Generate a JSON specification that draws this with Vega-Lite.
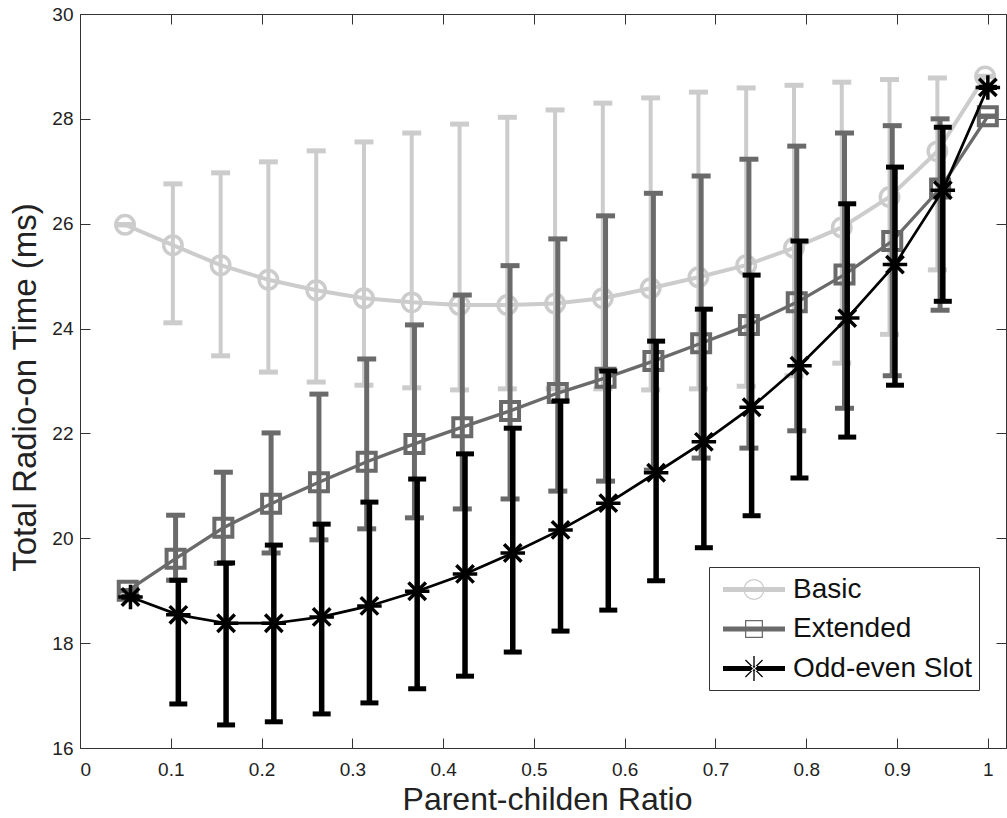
{
  "$schema": "https://vega.github.io/schema/vega-lite/v6.json",
  "width": 926,
  "height": 734,
  "autosize": {"type": "none"},
  "padding": {"left": 80, "top": 14, "right": 1, "bottom": 70},
  "background": "white",
  "config": {
    "view": {"stroke": null},
    "axis": {"domainColor": "#333333", "tickColor": "#333333", "domainWidth": 1, "tickWidth": 1, "grid": false, "labelFont": "Liberation Sans", "labelFontSize": 19, "labelColor": "#222222", "titleFont": "Liberation Sans", "titleFontWeight": "normal", "titleColor": "#222222", "tickSize": -10},
    "legend": {"orient": "none", "legendX": 629, "legendY": 553, "padding": 7, "strokeColor": "#333333", "fillColor": "white", "symbolSize": 961, "symbolStrokeWidth": 0, "symbolOpacity": 1, "labelFontSize": 28, "labelFont": "Liberation Sans", "labelColor": "#111111", "rowPadding": 9.5, "labelOffset": 23.5, "symbolOffset": 22.5, "labelLimit": 400}
  },
  "datasets": {
    "d": [
      {"s": "Basic", "x": 0.0496, "m": 25.98, "lo": 25.98, "hi": 25.98},
      {"s": "Basic", "x": 0.1023, "m": 25.59, "lo": 24.11, "hi": 26.76},
      {"s": "Basic", "x": 0.1549, "m": 25.21, "lo": 23.48, "hi": 26.97},
      {"s": "Basic", "x": 0.2075, "m": 24.93, "lo": 23.17, "hi": 27.18},
      {"s": "Basic", "x": 0.2602, "m": 24.73, "lo": 22.98, "hi": 27.39},
      {"s": "Basic", "x": 0.3128, "m": 24.58, "lo": 22.92, "hi": 27.56},
      {"s": "Basic", "x": 0.3654, "m": 24.5, "lo": 22.87, "hi": 27.73},
      {"s": "Basic", "x": 0.4181, "m": 24.45, "lo": 22.83, "hi": 27.9},
      {"s": "Basic", "x": 0.4707, "m": 24.45, "lo": 22.85, "hi": 28.03},
      {"s": "Basic", "x": 0.5233, "m": 24.48, "lo": 22.85, "hi": 28.17},
      {"s": "Basic", "x": 0.5759, "m": 24.58, "lo": 22.85, "hi": 28.3},
      {"s": "Basic", "x": 0.6286, "m": 24.77, "lo": 22.83, "hi": 28.4},
      {"s": "Basic", "x": 0.6812, "m": 24.98, "lo": 22.85, "hi": 28.51},
      {"s": "Basic", "x": 0.7338, "m": 25.21, "lo": 22.9, "hi": 28.59},
      {"s": "Basic", "x": 0.7865, "m": 25.54, "lo": 23.1, "hi": 28.64},
      {"s": "Basic", "x": 0.8391, "m": 25.93, "lo": 23.34, "hi": 28.7},
      {"s": "Basic", "x": 0.8917, "m": 26.51, "lo": 23.89, "hi": 28.75},
      {"s": "Basic", "x": 0.9444, "m": 27.38, "lo": 25.12, "hi": 28.78},
      {"s": "Basic", "x": 0.997, "m": 28.81, "lo": 28.81, "hi": 28.81},
      {"s": "Extended", "x": 0.0526, "m": 19.0, "lo": 19.0, "hi": 19.0},
      {"s": "Extended", "x": 0.1053, "m": 19.61, "lo": 19.2, "hi": 20.44},
      {"s": "Extended", "x": 0.1579, "m": 20.2, "lo": 19.52, "hi": 21.26},
      {"s": "Extended", "x": 0.2105, "m": 20.66, "lo": 19.72, "hi": 22.01},
      {"s": "Extended", "x": 0.2632, "m": 21.07, "lo": 19.97, "hi": 22.75},
      {"s": "Extended", "x": 0.3158, "m": 21.46, "lo": 20.18, "hi": 23.42},
      {"s": "Extended", "x": 0.3684, "m": 21.8, "lo": 20.39, "hi": 24.07},
      {"s": "Extended", "x": 0.4211, "m": 22.12, "lo": 20.56, "hi": 24.64},
      {"s": "Extended", "x": 0.4737, "m": 22.43, "lo": 20.75, "hi": 25.2},
      {"s": "Extended", "x": 0.5263, "m": 22.77, "lo": 20.9, "hi": 25.71},
      {"s": "Extended", "x": 0.5789, "m": 23.06, "lo": 21.09, "hi": 26.15},
      {"s": "Extended", "x": 0.6316, "m": 23.38, "lo": 21.3, "hi": 26.58},
      {"s": "Extended", "x": 0.6842, "m": 23.72, "lo": 21.53, "hi": 26.91},
      {"s": "Extended", "x": 0.7368, "m": 24.07, "lo": 21.72, "hi": 27.23},
      {"s": "Extended", "x": 0.7895, "m": 24.5, "lo": 22.05, "hi": 27.48},
      {"s": "Extended", "x": 0.8421, "m": 25.03, "lo": 22.48, "hi": 27.73},
      {"s": "Extended", "x": 0.8947, "m": 25.67, "lo": 23.1, "hi": 27.87},
      {"s": "Extended", "x": 0.9474, "m": 26.67, "lo": 24.35, "hi": 28.0},
      {"s": "Extended", "x": 1.0, "m": 28.05, "lo": 28.05, "hi": 28.05},
      {"s": "Odd-even Slot", "x": 0.0556, "m": 18.88, "lo": 18.88, "hi": 18.88},
      {"s": "Odd-even Slot", "x": 0.1083, "m": 18.54, "lo": 16.84, "hi": 19.2},
      {"s": "Odd-even Slot", "x": 0.1609, "m": 18.38, "lo": 16.44, "hi": 19.53},
      {"s": "Odd-even Slot", "x": 0.2135, "m": 18.38, "lo": 16.5, "hi": 19.87},
      {"s": "Odd-even Slot", "x": 0.2662, "m": 18.5, "lo": 16.65, "hi": 20.27},
      {"s": "Odd-even Slot", "x": 0.3188, "m": 18.71, "lo": 16.86, "hi": 20.69},
      {"s": "Odd-even Slot", "x": 0.3714, "m": 18.99, "lo": 17.13, "hi": 21.13},
      {"s": "Odd-even Slot", "x": 0.4241, "m": 19.32, "lo": 17.37, "hi": 21.61},
      {"s": "Odd-even Slot", "x": 0.4767, "m": 19.72, "lo": 17.83, "hi": 22.1},
      {"s": "Odd-even Slot", "x": 0.5293, "m": 20.16, "lo": 18.23, "hi": 22.62},
      {"s": "Odd-even Slot", "x": 0.5819, "m": 20.67, "lo": 18.63, "hi": 23.19},
      {"s": "Odd-even Slot", "x": 0.6346, "m": 21.25, "lo": 19.19, "hi": 23.76},
      {"s": "Odd-even Slot", "x": 0.6872, "m": 21.84, "lo": 19.82, "hi": 24.37},
      {"s": "Odd-even Slot", "x": 0.7398, "m": 22.5, "lo": 20.43, "hi": 25.02},
      {"s": "Odd-even Slot", "x": 0.7925, "m": 23.29, "lo": 21.15, "hi": 25.67},
      {"s": "Odd-even Slot", "x": 0.8451, "m": 24.2, "lo": 21.93, "hi": 26.38},
      {"s": "Odd-even Slot", "x": 0.8977, "m": 25.22, "lo": 22.92, "hi": 27.08},
      {"s": "Odd-even Slot", "x": 0.9504, "m": 26.64, "lo": 24.52, "hi": 27.84},
      {"s": "Odd-even Slot", "x": 1.0, "m": 28.6, "lo": 28.6, "hi": 28.6}
    ]
  },
  "data": {"name": "d"},
  "layer": [
    {
      "transform": [{"filter": "datum.s === 'Basic'"}],
      "encoding": {"x": {"field": "x", "type": "quantitative", "scale": {"domain": [0, 1.02], "nice": false, "zero": false}, "axis": null}},
      "layer": [
        {"mark": {"type": "rule", "color": "#cccccc", "strokeWidth": 4}, "encoding": {"y": {"field": "lo", "type": "quantitative", "scale": {"domain": [16, 30], "nice": false, "zero": false}, "axis": null}, "y2": {"field": "hi"}}},
        {"transform": [{"fold": ["lo", "hi"], "as": ["end", "v"]}], "mark": {"type": "tick", "orient": "horizontal", "color": "#cccccc", "size": 19, "thickness": 5, "opacity": 1}, "encoding": {"y": {"field": "v", "type": "quantitative", "scale": {"domain": [16, 30], "nice": false, "zero": false}, "axis": null}}},
        {"mark": {"type": "line", "color": "#cccccc", "strokeWidth": 4}, "encoding": {"y": {"field": "m", "type": "quantitative", "scale": {"domain": [16, 30], "nice": false, "zero": false}, "axis": null}}},
        {"mark": {"type": "point", "shape": "circle", "filled": false, "color": "#cccccc", "size": 340, "strokeWidth": 3.5, "opacity": 1}, "encoding": {"y": {"field": "m", "type": "quantitative", "scale": {"domain": [16, 30], "nice": false, "zero": false}, "axis": null}}}
      ]
    },
    {
      "transform": [{"filter": "datum.s === 'Extended'"}],
      "encoding": {"x": {"field": "x", "type": "quantitative", "scale": {"domain": [0, 1.02], "nice": false, "zero": false}, "axis": null}},
      "layer": [
        {"mark": {"type": "rule", "color": "#6a6a6a", "strokeWidth": 5}, "encoding": {"y": {"field": "lo", "type": "quantitative", "scale": {"domain": [16, 30], "nice": false, "zero": false}, "axis": null}, "y2": {"field": "hi"}}},
        {"transform": [{"fold": ["lo", "hi"], "as": ["end", "v"]}], "mark": {"type": "tick", "orient": "horizontal", "color": "#6a6a6a", "size": 19, "thickness": 5, "opacity": 1}, "encoding": {"y": {"field": "v", "type": "quantitative", "scale": {"domain": [16, 30], "nice": false, "zero": false}, "axis": null}}},
        {"mark": {"type": "line", "color": "#6a6a6a", "strokeWidth": 3.3}, "encoding": {"y": {"field": "m", "type": "quantitative", "scale": {"domain": [16, 30], "nice": false, "zero": false}, "axis": null}}},
        {"mark": {"type": "point", "shape": "square", "filled": false, "color": "#6a6a6a", "size": 324, "strokeWidth": 4, "opacity": 1}, "encoding": {"y": {"field": "m", "type": "quantitative", "scale": {"domain": [16, 30], "nice": false, "zero": false}, "axis": null}}}
      ]
    },
    {
      "transform": [{"filter": "datum.s === 'Odd-even Slot'"}],
      "encoding": {"x": {"field": "x", "type": "quantitative", "scale": {"domain": [0, 1.02], "nice": false, "zero": false}, "axis": null}},
      "layer": [
        {"mark": {"type": "rule", "color": "#000000", "strokeWidth": 5.5}, "encoding": {"y": {"field": "lo", "type": "quantitative", "scale": {"domain": [16, 30], "nice": false, "zero": false}, "axis": null}, "y2": {"field": "hi"}}},
        {"transform": [{"fold": ["lo", "hi"], "as": ["end", "v"]}], "mark": {"type": "tick", "orient": "horizontal", "color": "#000000", "size": 18, "thickness": 5, "opacity": 1}, "encoding": {"y": {"field": "v", "type": "quantitative", "scale": {"domain": [16, 30], "nice": false, "zero": false}, "axis": null}}},
        {"mark": {"type": "line", "color": "#000000", "strokeWidth": 2.7}, "encoding": {"y": {"field": "m", "type": "quantitative", "scale": {"domain": [16, 30], "nice": false, "zero": false}, "axis": null}}},
        {"mark": {"type": "point", "shape": "M0,-1L0,1M-1,0L1,0M-0.71,-0.71L0.71,0.71M-0.71,0.71L0.71,-0.71", "filled": false, "color": "#000000", "size": 600, "strokeWidth": 3.5, "opacity": 1}, "encoding": {"y": {"field": "m", "type": "quantitative", "scale": {"domain": [16, 30], "nice": false, "zero": false}, "axis": null}}}
      ]
    },
    {
      "transform": [{"filter": "datum.m < 0"}],
      "mark": {"type": "point", "filled": true, "opacity": 1},
      "encoding": {
        "x": {"field": "x", "type": "quantitative", "scale": {"domain": [0, 1.02], "nice": false, "zero": false}, "axis": null},
        "y": {"field": "m", "type": "quantitative", "scale": {"domain": [16, 30], "nice": false, "zero": false}, "axis": null},
        "color": {"field": "s", "type": "nominal", "scale": {"domain": ["Basic", "Extended", "Odd-even Slot"], "range": ["#cccccc", "#6a6a6a", "#000000"]}, "legend": {"title": null}},
        "shape": {"field": "s", "type": "nominal", "scale": {"domain": ["Basic", "Extended", "Odd-even Slot"], "range": [
          "M-2,-0.16L2,-0.16L2,0.16L-2,0.16Z M0.68,0L0.628,0.26L0.48,0.48L0.26,0.628L0,0.68L-0.26,0.628L-0.48,0.48L-0.628,0.26L-0.68,0L-0.628,-0.26L-0.48,-0.48L-0.26,-0.628L0,-0.68L0.26,-0.628L0.48,-0.48L0.628,-0.26Z M0.6,0L0.554,-0.23L0.424,-0.424L0.23,-0.554L0,-0.6L-0.23,-0.554L-0.424,-0.424L-0.554,-0.23L-0.6,0L-0.554,0.23L-0.424,0.424L-0.23,0.554L0,0.6L0.23,0.554L0.424,0.424L0.554,0.23Z",
          "M-2,-0.16L2,-0.16L2,0.16L-2,0.16Z M-0.58,-0.58L0.58,-0.58L0.58,0.58L-0.58,0.58Z M-0.5,-0.5L-0.5,0.5L0.5,0.5L0.5,-0.5Z",
          "M-2,-0.16L2,-0.16L2,0.16L-2,0.16Z M-0.044,-0.8L0.044,-0.8L0.044,0.8L-0.044,0.8Z M-0.58,-0.524L0.524,0.58L0.58,0.524L-0.524,-0.58Z M-0.524,0.58L0.58,-0.524L0.524,-0.58L-0.58,0.524Z"
        ]}, "legend": {"title": null}}
      }
    },
    {
      "mark": {"type": "point", "opacity": 0},
      "encoding": {
        "x": {"field": "x", "type": "quantitative", "scale": {"domain": [0, 1.02], "nice": false, "zero": false}, "axis": {"orient": "bottom", "values": [0, 0.1, 0.2, 0.3, 0.4, 0.5, 0.6, 0.7, 0.8, 0.9, 1], "format": "~g", "labelPadding": 22, "labelBaseline": "top", "title": "Parent-childen Ratio", "titleFontSize": 32, "titleX": 467, "titleY": 61, "titleBaseline": "alphabetic", "titleAlign": "center"}},
        "y": {"field": "m", "type": "quantitative", "scale": {"domain": [16, 30], "nice": false, "zero": false}, "axis": {"orient": "left", "values": [16, 18, 20, 22, 24, 26, 28, 30], "labelPadding": 17, "title": "Total Radio-on Time (ms)", "titleFontSize": 33, "titleX": -45, "titleY": 373, "titleAngle": -90, "titleBaseline": "alphabetic", "titleAlign": "center"}}
      }
    },
    {
      "mark": {"type": "point", "opacity": 0},
      "encoding": {
        "x": {"field": "x", "type": "quantitative", "scale": {"domain": [0, 1.02], "nice": false, "zero": false}, "axis": {"orient": "top", "values": [0, 0.1, 0.2, 0.3, 0.4, 0.5, 0.6, 0.7, 0.8, 0.9, 1], "labels": false, "title": null}},
        "y": {"field": "m", "type": "quantitative", "scale": {"domain": [16, 30], "nice": false, "zero": false}, "axis": {"orient": "right", "values": [16, 18, 20, 22, 24, 26, 28, 30], "labels": false, "title": null}}
      }
    }
  ],
  "resolve": {"axis": {"x": "independent", "y": "independent"}}
}
